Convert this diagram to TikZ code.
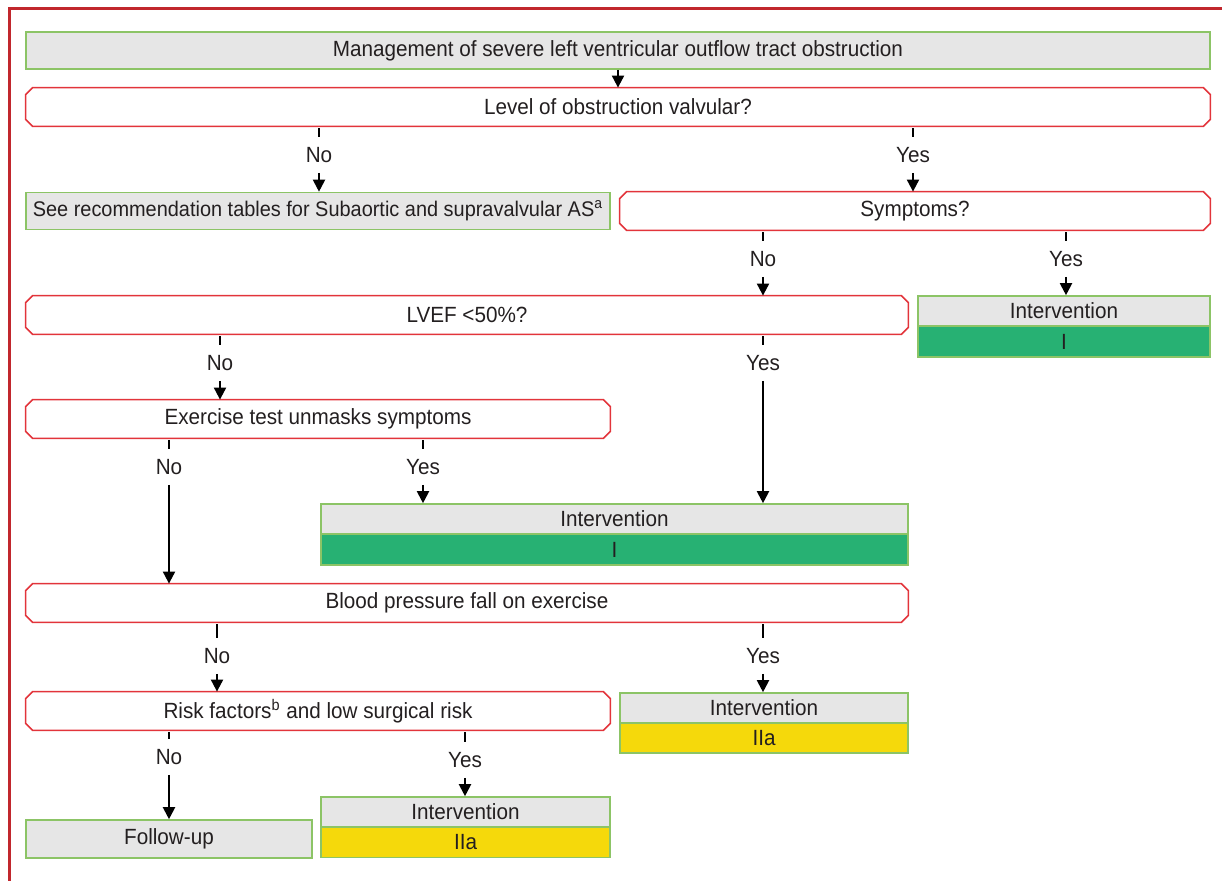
\documentclass[tikz,border=0pt]{standalone}
\usepackage{fontspec}
\setmainfont{Liberation Sans}[FakeStretch=0.94]
\usetikzlibrary{arrows.meta}
\definecolor{framered}{HTML}{C1272D}
\definecolor{qred}{HTML}{E2343B}
\definecolor{boxgreen}{HTML}{8CC466}
\definecolor{boxgray}{HTML}{E6E6E6}
\definecolor{classgreen}{HTML}{27B173}
\definecolor{classyellow}{HTML}{F5D90B}
\definecolor{txt}{HTML}{231F20}

\begin{document}
\begin{tikzpicture}[x=0.5pt,y=-0.5pt,
  font=\fontsize{11}{13}\selectfont, text=txt,
  gbox/.style={draw=boxgreen, fill=boxgray, line width=0.8pt, minimum height=18.5pt, inner sep=0pt},
  qbox/.style={minimum height=19pt, inner sep=0pt},
  qline/.style={draw=qred, line width=0.8pt},
  head/.style={draw=boxgreen, fill=boxgray, line width=0.8pt, minimum height=15pt, inner sep=0pt},
  classI/.style={draw=boxgreen, fill=classgreen, line width=0.8pt, minimum height=15.5pt, inner sep=0pt},
  classIIa/.style={draw=boxgreen, fill=classyellow, line width=0.8pt, minimum height=15pt, inner sep=0pt},
  lbl/.style={inner xsep=1pt, inner ysep=5pt, text height=7.5pt, text depth=0pt},
  arr/.style={-{Triangle[length=6pt,width=6pt]}, line width=1pt},
  tick/.style={line width=1pt, shorten <=1pt}]

  \useasboundingbox (0,0) rectangle (1222,881);
  \draw[framered, line width=1.5pt] (1222,9) -- (9,9) -- (9,881);

  % boxes
  \node[gbox, minimum width=592pt] (title) at (618,50.5) {Management of severe left ventricular outflow tract obstruction};
  \node[qbox, minimum width=592pt] (level) at (618,107) {Level of obstruction valvular?};
  \node[gbox, minimum width=292pt, font=\fontsize{10.6}{13}\selectfont] (tables) at (318,211) {See recommendation tables for Subaortic and supravalvular AS\textsuperscript{a}};
  \node[qbox, minimum width=295pt] (sympt) at (915,211) {Symptoms?};
  \node[qbox, minimum width=441pt] (lvef) at (467,315) {LVEF <50\%?};
  \node[head, minimum width=146pt] (intA) at (1064,311) {Intervention};
  \node[classI, minimum width=146pt] (intAc) at (1064,341.5) {I};
  \node[qbox, minimum width=292pt] (exer) at (318,419) {Exercise test unmasks symptoms};
  \node[head, minimum width=293.5pt] (intB) at (614.5,519) {Intervention};
  \node[classI, minimum width=293.5pt] (intBc) at (614.5,549.5) {I};
  \node[qbox, minimum width=441pt] (bpfall) at (467,603) {Blood pressure fall on exercise};
  \node[qbox, minimum width=292pt] (risk) at (318,711) {Risk factors\textsuperscript{b} and low surgical risk};
  \node[head, minimum width=144pt] (intC) at (764,708) {Intervention};
  \node[classIIa, minimum width=144pt] (intCc) at (764,738) {IIa};
  \node[gbox, minimum width=143pt, minimum height=19pt] (follow) at (169,839) {Follow-up};
  \node[head, minimum width=144.5pt] (intD) at (465.5,812) {Intervention};
  \node[classIIa, minimum width=144.5pt] (intDc) at (465.5,842.5) {IIa};

  % cut corners of the question boxes
  \foreach \q in {level,sympt,lvef,exer,bpfall,risk}
    \draw[qline] ([xshift=3.5pt]\q.north west) -- ([xshift=-3.5pt]\q.north east)
      -- ([yshift=-3.5pt]\q.north east) -- ([yshift=3.5pt]\q.south east)
      -- ([xshift=-3.5pt]\q.south east) -- ([xshift=3.5pt]\q.south west)
      -- ([yshift=3.5pt]\q.south west) -- ([yshift=-3.5pt]\q.north west) -- cycle;

  % branch labels
  \node[lbl] (no1) at (319,155) {No};
  \node[lbl] (yes1) at (913,155) {Yes};
  \node[lbl] (no2) at (763,259) {No};
  \node[lbl] (yes2) at (1066,259) {Yes};
  \node[lbl] (no3) at (220,363) {No};
  \node[lbl] (yes3) at (763,363) {Yes};
  \node[lbl] (no4) at (169,467) {No};
  \node[lbl] (yes4) at (423,467) {Yes};
  \node[lbl] (no5) at (217,656) {No};
  \node[lbl] (yes5) at (763,656) {Yes};
  \node[lbl] (no6) at (169,757) {No};
  \node[lbl] (yes6) at (465,760) {Yes};

  % connectors
  \draw[arr] (title) -- (level);
  \draw[tick] (level.south -| no1) -- (no1);
  \draw[arr] (no1) -- (tables.north -| no1);
  \draw[tick] (level.south -| yes1) -- (yes1);
  \draw[arr] (yes1) -- (sympt.north -| yes1);
  \draw[tick] (sympt.south -| no2) -- (no2);
  \draw[arr] (no2) -- (lvef.north -| no2);
  \draw[tick] (sympt.south -| yes2) -- (yes2);
  \draw[arr] (yes2) -- (intA.north -| yes2);
  \draw[tick] (lvef.south -| no3) -- (no3);
  \draw[arr] (no3) -- (exer.north -| no3);
  \draw[tick] (lvef.south -| yes3) -- (yes3);
  \draw[arr] (yes3) -- (intB.north -| yes3);
  \draw[tick] (exer.south -| no4) -- (no4);
  \draw[arr] (no4) -- (bpfall.north -| no4);
  \draw[tick] (exer.south -| yes4) -- (yes4);
  \draw[arr] (yes4) -- (intB.north -| yes4);
  \draw[tick] (bpfall.south -| no5) -- (no5);
  \draw[arr] (no5) -- (risk.north -| no5);
  \draw[tick] (bpfall.south -| yes5) -- (yes5);
  \draw[arr] (yes5) -- (intC.north -| yes5);
  \draw[tick] (risk.south -| no6) -- (no6);
  \draw[arr] (no6) -- (follow.north -| no6);
  \draw[tick] (risk.south -| yes6) -- (yes6);
  \draw[arr] (yes6) -- (intD.north -| yes6);
\end{tikzpicture}
\end{document}
